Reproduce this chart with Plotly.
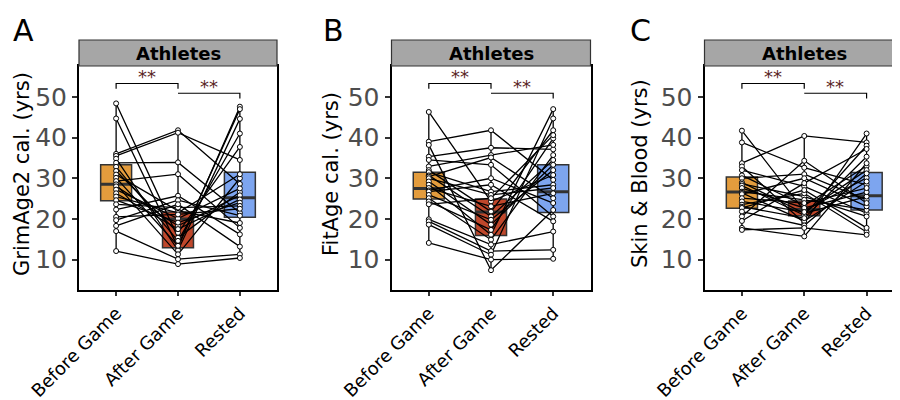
import plotly.graph_objects as go

# ---------------- data ----------------
groups = ["Before Game", "After Game", "Rested"]
panel_letters = ["A", "B", "C"]
panel_titles = ["GrimAge2 cal. (yrs)", "FitAge cal. (yrs)", "Skin &amp; Blood (yrs)"]
strip_label = "Athletes"
sig_labels = ["**", "**"]
y_ticks = [10, 20, 30, 40, 50]

# Panel A (GrimAge2) per-subject values
A_before = [48.4, 44.7, 36.0, 35.5, 34.8, 33.8, 32.8, 31.8, 30.9, 30.1, 29.3, 28.5,
            28.0, 27.2, 26.3, 25.5, 24.6, 23.6, 22.3, 20.5, 19.7, 18.3, 17.0, 12.1]
A_after = [15.4, 13.0, 41.8, 41.2, 12.3, 33.9, 14.6, 16.6, 22.0, 13.4, 31.0, 11.3,
           18.3, 20.1, 17.5, 21.5, 19.1, 22.8, 25.7, 21.1, 24.6, 23.6, 10.1, 8.9]
A_rested = [26.6, 47.6, 28.6, 34.5, 44.6, 21.5, 41.0, 37.7, 19.0, 47.0, 17.8, 30.0,
            25.8, 27.5, 24.8, 31.0, 24.0, 23.2, 16.2, 22.5, 20.8, 13.2, 11.3, 10.4]
A_q1 = [24.5, 12.9, 20.4]
A_med = [28.5, 20.0, 25.2]
A_q3 = [33.3, 21.7, 31.5]

# Panel B (FitAge)
B_before = [46.3, 39.0, 38.2, 35.3, 34.5, 32.9, 32.0, 31.5, 30.7, 30.4, 30.0, 29.2,
            28.4, 27.6, 27.0, 26.7, 25.9, 25.1, 24.3, 23.6, 19.9, 19.4, 18.6, 14.1]
B_after = [24.3, 41.8, 7.4, 37.5, 33.3, 35.7, 21.8, 26.7, 20.6, 35.1, 25.9, 18.6,
           16.1, 23.1, 30.0, 28.4, 19.8, 14.9, 17.3, 25.1, 13.7, 12.1, 11.2, 10.0]
B_rested = [30.8, 29.6, 22.2, 37.1, 20.6, 38.2, 41.8, 28.4, 34.5, 25.1, 27.6, 33.3,
            47.0, 26.3, 23.9, 19.4, 32.0, 35.7, 39.8, 40.6, 16.9, 12.4, 44.7, 10.2]
B_q1 = [24.9, 15.9, 21.6]
B_med = [27.5, 21.7, 26.7]
B_q3 = [31.5, 24.9, 33.3]

# Panel C (Skin & Blood)
C_before = [41.7, 38.8, 33.7, 32.9, 32.0, 30.7, 30.0, 29.0, 28.6, 28.2, 27.6, 26.7,
            26.4, 26.1, 25.1, 24.3, 23.5, 23.0, 22.7, 21.8, 20.6, 19.5, 17.8, 17.3]
C_after = [22.0, 32.6, 40.4, 19.0, 28.0, 23.3, 31.0, 21.4, 25.5, 20.9, 22.7, 24.7,
           19.5, 30.0, 23.9, 21.7, 26.3, 20.2, 27.1, 18.4, 34.3, 28.8, 15.7, 17.8]
C_rested = [30.1, 28.4, 38.8, 41.0, 21.4, 33.0, 24.7, 25.5, 20.6, 38.0, 26.6, 22.2,
            29.2, 23.1, 27.6, 32.0, 16.8, 35.3, 17.8, 31.2, 23.9, 37.2, 33.7, 16.1]
C_q1 = [22.6, 20.8, 22.2]
C_med = [26.6, 22.3, 25.7]
C_q3 = [30.3, 24.4, 31.4]

# significance bracket heights (data units)
bracket1 = [53.3, 52.0]
bracket2 = [50.9, 49.6]

# ---------------- style ----------------
box_colors = ["#E39C3D", "#BF472B", "#7DA5EF"]
star_color = "#5A2424"
FONT = "DejaVu Sans"
W, H = 900, 400
x_doms = [(71 / W, 269 / W), (383.5 / W, 582.5 / W), (696.5 / W, 896 / W)]
y_dom = (1 - 281.7 / H, 1 - 58 / H)
strip_top = 1 - 32 / H
title_x_px = [14, 323, 632]
letter_x_px = [3, 313, 620]
y_range = [2.6, 57.6]

panels = [
    (A_before, A_after, A_rested, A_q1, A_med, A_q3),
    (B_before, B_after, B_rested, B_q1, B_med, B_q3),
    (C_before, C_after, C_rested, C_q1, C_med, C_q3),
]

fig = go.Figure()
shapes = []
annotations = []

for p, (bef, aft, res, q1, med, q3) in enumerate(panels):
    xa = "x" if p == 0 else f"x{p + 1}"
    ya = "y" if p == 0 else f"y{p + 1}"
    cols = [bef, aft, res]
    # boxes
    for g in range(3):
        fig.add_trace(go.Box(
            x=[g], q1=[q1[g]], median=[med[g]], q3=[q3[g]],
            lowerfence=[q1[g]], upperfence=[q3[g]], width=0.5,
            fillcolor=box_colors[g], line=dict(color="#333333", width=1.5),
            boxpoints=False, xaxis=xa, yaxis=ya, showlegend=False, hoverinfo="skip"))
        fig.add_trace(go.Scatter(
            x=[g - 0.25, g + 0.25], y=[med[g], med[g]], mode="lines",
            line=dict(color="#333333", width=3), xaxis=xa, yaxis=ya,
            showlegend=False, hoverinfo="skip"))
    # vertical lines through each group's points
    for g in range(3):
        vals = sorted(cols[g])
        fig.add_trace(go.Scatter(
            x=[g] * len(vals), y=vals, mode="lines",
            line=dict(color="black", width=1.3), xaxis=xa, yaxis=ya,
            showlegend=False, hoverinfo="skip"))
    # paired subject lines
    for i in range(len(bef)):
        fig.add_trace(go.Scatter(
            x=[0, 1, 2], y=[bef[i], aft[i], res[i]], mode="lines",
            line=dict(color="black", width=1.3), xaxis=xa, yaxis=ya,
            showlegend=False, hoverinfo="skip"))
    # points on top
    for g in range(3):
        fig.add_trace(go.Scatter(
            x=[g] * len(cols[g]), y=cols[g], mode="markers",
            marker=dict(size=5, color="white", line=dict(color="black", width=1)),
            xaxis=xa, yaxis=ya, showlegend=False, hoverinfo="skip"))

    # axes
    xkey = "xaxis" if p == 0 else f"xaxis{p + 1}"
    ykey = "yaxis" if p == 0 else f"yaxis{p + 1}"
    fig.update_layout(**{
        xkey: dict(domain=list(x_doms[p]), anchor=ya, range=[-0.6, 2.6],
                   tickvals=[0, 1, 2], ticktext=groups, tickangle=-45,
                   tickfont=dict(family=FONT, size=18, color="black"),
                   showline=True, mirror=True, linecolor="black", linewidth=2,
                   ticks="outside", ticklen=4, tickcolor="#333333", tickwidth=1.5,
                   showgrid=False, zeroline=False, fixedrange=True, automargin=False),
        ykey: dict(domain=list(y_dom), anchor=xa, range=y_range,
                   tickvals=y_ticks, ticktext=[str(v) for v in y_ticks],
                   tickfont=dict(family=FONT, size=25, color="#4D4D4D"),
                   showline=True, mirror=True, linecolor="black", linewidth=2,
                   ticks="outside", ticklen=5, tickcolor="#333333", tickwidth=1.5,
                   showgrid=False, zeroline=False, fixedrange=True, automargin=False),
    })

    # strip
    shapes.append(dict(type="rect", xref=f"{xa} domain", yref="paper",
                       x0=0, x1=1, y0=y_dom[1], y1=strip_top,
                       fillcolor="#A6A6A6", line=dict(color="#333333", width=1.2),
                       layer="above"))
    annotations.append(dict(text=f"<b>{strip_label}</b>", xref=f"{xa} domain", yref="paper",
                            x=0.5, y=(y_dom[1] + strip_top) / 2, showarrow=False,
                            font=dict(family=FONT, size=18, color="black"),
                            xanchor="center", yanchor="middle"))
    # brackets
    shapes.append(dict(type="path", xref=xa, yref=ya,
                       path=f"M 0 {bracket1[1]} L 0 {bracket1[0]} L 1 {bracket1[0]} L 1 {bracket1[1]}",
                       line=dict(color="black", width=1.2)))
    shapes.append(dict(type="path", xref=xa, yref=ya,
                       path=f"M 1 {bracket2[0]} L 2 {bracket2[0]} L 2 {bracket2[1]}",
                       line=dict(color="black", width=1.2)))
    annotations.append(dict(text=sig_labels[0], xref=xa, yref=ya, x=0.5, y=bracket1[0],
                            showarrow=False, yanchor="bottom", yshift=-6,
                            font=dict(family=FONT, size=18, color=star_color)))
    annotations.append(dict(text=sig_labels[1], xref=xa, yref=ya, x=1.5, y=bracket2[0],
                            showarrow=False, yanchor="bottom", yshift=-6,
                            font=dict(family=FONT, size=18, color=star_color)))
    # y title
    annotations.append(dict(text=panel_titles[p], xref="paper", yref="paper",
                            x=title_x_px[p] / W, y=1 - 166 / H, textangle=-90,
                            showarrow=False, xanchor="center", yanchor="middle",
                            font=dict(family=FONT, size=21, color="black")))
    # panel letter
    annotations.append(dict(text=panel_letters[p], xref="paper", yref="paper",
                            x=letter_x_px[p] / W, y=1 - 3 / H, showarrow=False,
                            xanchor="left", yanchor="top",
                            font=dict(family=FONT, size=30, color="black")))

fig.update_layout(template="none", width=W, height=H,
                  margin=dict(l=0, r=0, t=0, b=0, autoexpand=False),
                  paper_bgcolor="white", plot_bgcolor="white",
                  shapes=shapes, annotations=annotations, showlegend=False)

fig.write_html("out.html")
